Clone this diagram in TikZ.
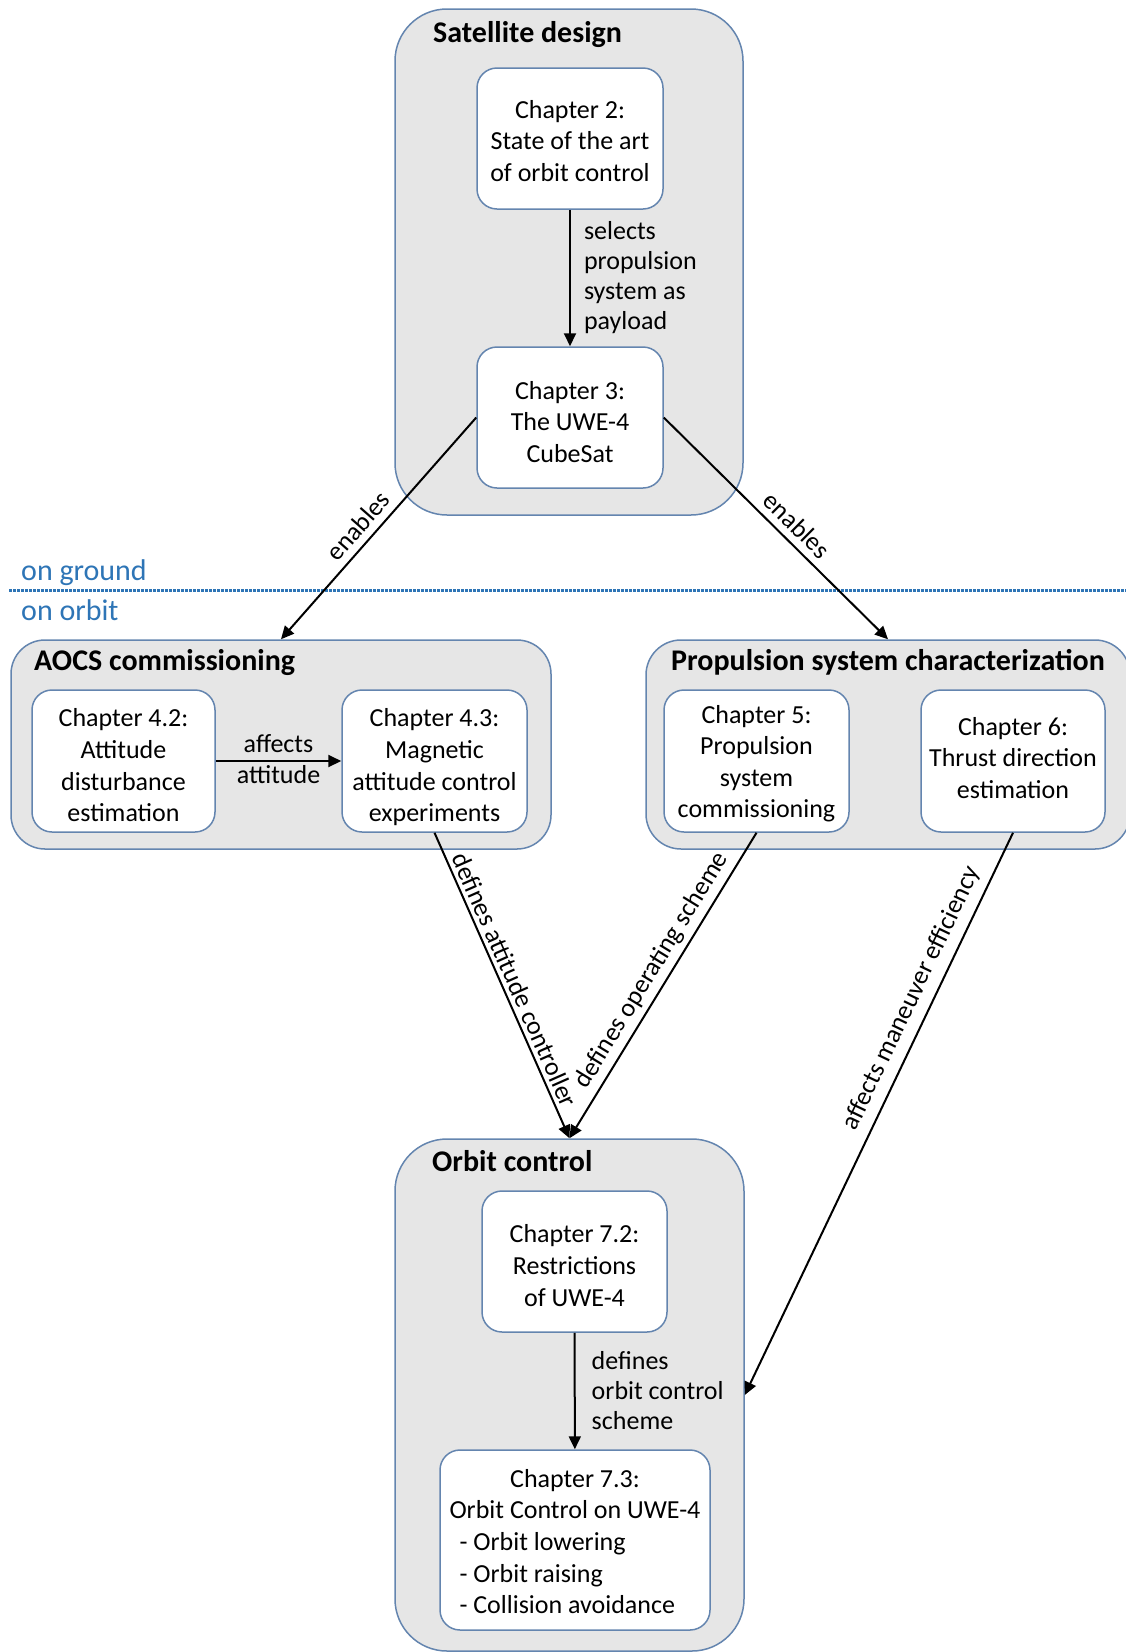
\documentclass[tikz,border=0pt]{standalone}
\usepackage{fontspec}
\setmainfont{Carlito}
\usetikzlibrary{arrows.meta}
\definecolor{bord}{RGB}{100,133,175}
\definecolor{grp}{RGB}{230,230,230}
\definecolor{skyblue}{RGB}{46,117,182}
% #1: downward shift of the text block (pt), #2: lines
\newcommand{\ctxt}[2]{\rule{0pt}{\dimexpr30pt+(#1pt)\relax}#2\rule[\dimexpr(#1pt)-11pt\relax]{0pt}{\dimexpr11pt-(#1pt)\relax}}
\begin{document}
\begin{tikzpicture}[x=1pt,y=-1pt,
  group/.style={draw=bord, fill=grp, line width=1.5pt, inner sep=0pt},
  chap/.style={draw=bord, fill=white, line width=1.5pt, rounded corners=20pt, align=center, inner sep=0pt, font=\fontsize{26}{31.6}\selectfont},
  lbl/.style={font=\fontsize{26}{30}\selectfont, align=left, inner sep=0pt},
  gtitle/.style={font=\fontsize{30}{34}\selectfont\bfseries, inner sep=0pt, anchor=base west},
  zone/.style={font=\fontsize{30}{34}\selectfont, text=skyblue, inner sep=0pt, anchor=base west},
  arr/.style={line width=2pt, -{Triangle[length=13pt,width=12pt]}}]
\useasboundingbox (0,0) rectangle (1126,1652);
% groups
\node[group, rounded corners=52pt, minimum width=348pt, minimum height=506pt] (sat) at (569,262) {};
\node[group, rounded corners=34pt, minimum width=540pt, minimum height=209pt] (aocs) at (281,744.5) {};
\node[group, rounded corners=35pt, minimum width=484pt, minimum height=209pt] (prop) at (888,744.5) {};
\node[group, rounded corners=52pt, minimum width=349pt, minimum height=512pt] (orbit) at (569.5,1395) {};
% titles
\node[gtitle] (tsat) at (433,42) {Satellite design};
\node[gtitle] (taocs) at (34,670) {AOCS commissioning};
\node[gtitle] (tprop) at (671,670) {Propulsion system characterization};
\node[gtitle] (torb) at (432,1171) {Orbit control};
% zones
\coordinate (dl) at (9,590);
\coordinate (dr) at (1126,590);
\draw[skyblue, line width=3pt, dash pattern=on 2.5pt off 1.5pt] (dl) -- (dr);
\node[zone] (ground) at (21,580) {on ground};
\node[zone] (orbitz) at (21,620) {on orbit};
% chapters
\node[chap, minimum width=186pt, minimum height=141pt] (ch2) at (570,138.5) {\ctxt{1.6}{Chapter 2:\\State of the art\\of orbit control}};
\node[chap, minimum width=186pt, minimum height=141pt] (ch3) at (570,417.5) {\ctxt{3.8}{Chapter 3:\\The UWE-4\\CubeSat}};
\node[chap, minimum width=183pt, minimum height=142pt] (ch42) at (123.5,761) {\ctxt{3.7}{Chapter 4.2:\\Attitude\\disturbance\\estimation}};
\node[chap, minimum width=185pt, minimum height=142pt] (ch43) at (434.5,761) {\ctxt{3.7}{Chapter 4.3:\\Magnetic\\attitude control\\experiments}};
\node[chap, minimum width=185pt, minimum height=142pt] (ch5) at (756.5,761) {\ctxt{0}{Chapter 5:\\Propulsion\\system\\commissioning}};
\node[chap, minimum width=184pt, minimum height=142pt] (ch6) at (1013,761) {\ctxt{-3.7}{Chapter 6:\\Thrust direction\\estimation}};
\node[chap, minimum width=185pt, minimum height=141pt] (ch72) at (574.5,1261.5) {\ctxt{3.5}{Chapter 7.2:\\Restrictions\\of UWE-4}};
\node[chap, minimum width=270pt, minimum height=180pt] (ch73) at (575,1540) {\begin{tabular}{@{}l@{}}\multicolumn{1}{@{}c@{}}{\rule{0pt}{31pt}Chapter 7.3:}\\Orbit Control on UWE-4\\\hspace*{10pt}- Orbit lowering\\\hspace*{10pt}- Orbit raising\\\hspace*{10pt}- Collision avoidance\rule[-10pt]{0pt}{10pt}\end{tabular}};
% connectors
\draw[arr] (ch2) -- (ch3) node[midway, right=13pt, lbl] {selects\\propulsion\\system as\\payload};
\draw[arr] (ch3.west) -- (aocs.north) node[pos=0.54, sloped, above=7pt, lbl] {enables};
\draw[arr] (ch3.east) -- (prop.north) node[pos=0.54, sloped, above=7pt, lbl] {enables};
\draw[arr] (ch42) -- (ch43) node[midway, above=7pt, lbl] {affects} node[midway, below=3pt, lbl] {attitude};
\draw[arr] (ch43.south) -- (orbit.north) node[pos=0.5, sloped, above=4pt, lbl] {defines attitude controller};
\draw[arr] (ch5.south) -- (orbit.north) node[pos=0.48, sloped, above=5pt, lbl] {defines operating scheme};
\draw[arr] (ch6.south) -- (orbit.east) node[pos=0.31, sloped, above=8pt, lbl] {affects maneuver efficiency};
\draw[arr] (ch72) -- (ch73) node[midway, right=16pt, lbl] {defines\\orbit control\\scheme};
\end{tikzpicture}
\end{document}
